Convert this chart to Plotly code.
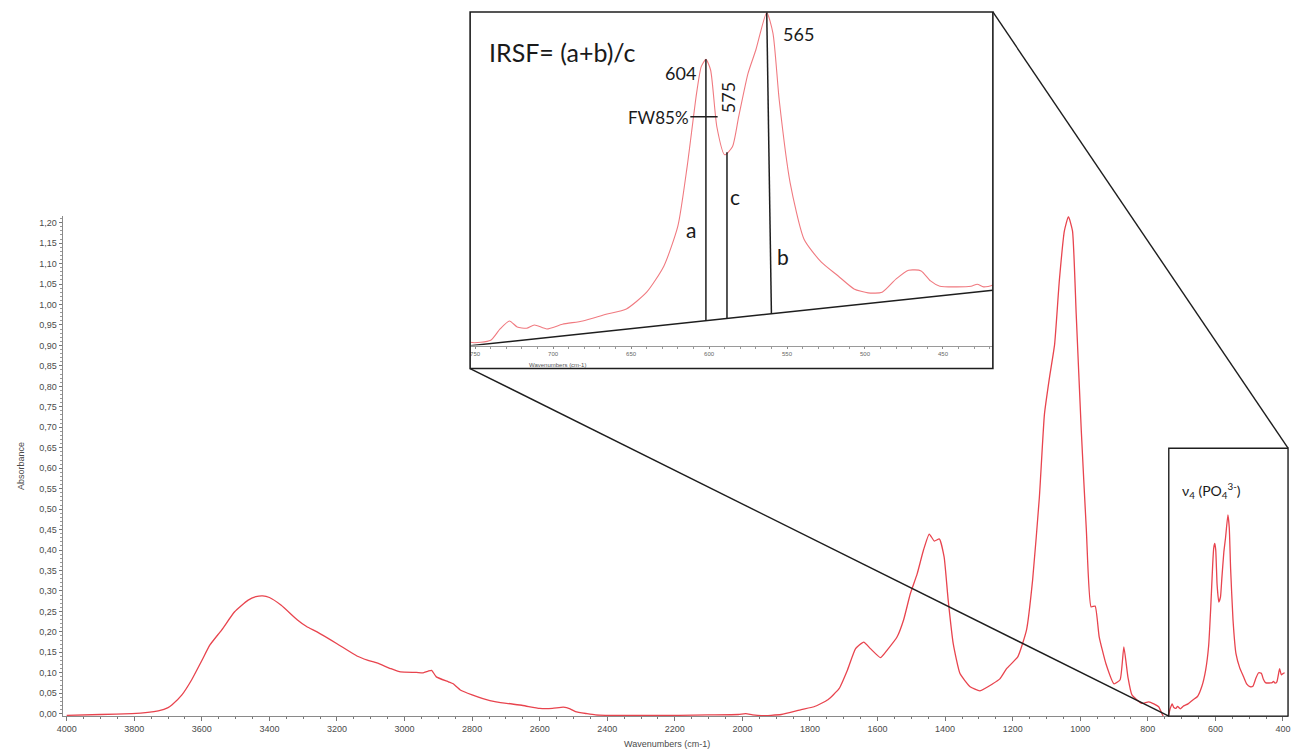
import numpy as np
import plotly.graph_objects as go

# FTIR absorbance spectrum (wavenumber in cm-1, descending)
wavenumber = [
    4000, 3900, 3807, 3760, 3729, 3700, 3688, 3659, 3630, 3600, 3576, 3541, 3503,
    3464, 3440, 3420, 3400, 3365, 3317, 3290, 3259, 3200, 3141, 3110, 3082, 3040,
    3012, 2965, 2945, 2930, 2920, 2906, 2870, 2856, 2845, 2835, 2800, 2768, 2729,
    2650, 2600, 2562, 2530, 2510, 2494, 2460, 2435, 2405, 2300, 2188, 2100, 2012,
    1990, 1970, 1944, 1885, 1826, 1788, 1747, 1714, 1689, 1665, 1641, 1621, 1591,
    1571, 1542, 1523, 1503, 1483, 1464, 1447, 1432, 1417, 1403, 1391, 1376, 1356,
    1326, 1297, 1259, 1238, 1218, 1185, 1159, 1141, 1121, 1106, 1091, 1076, 1062,
    1047, 1035, 1023, 1012, 997, 982, 968, 956, 944, 924, 900, 882, 871, 859, 847,
    818, 797, 768, 753, 740, 734, 728, 723, 717, 712, 704, 694, 681, 666, 653, 640,
    629, 620, 614, 608, 605, 602, 599, 595, 590, 585, 581, 575, 570, 563, 559, 555,
    548, 539, 528, 517, 507, 498, 489, 480, 472, 464, 458, 452, 441, 432, 428, 424,
    418, 410, 405, 400, 395,
]
absorbance = [
    -0.004, -0.002, 0.000, 0.003, 0.007, 0.015, 0.022, 0.046, 0.083, 0.130, 0.168,
    0.205, 0.249, 0.277, 0.286, 0.288, 0.284, 0.265, 0.229, 0.213, 0.200, 0.171,
    0.141, 0.131, 0.124, 0.110, 0.102, 0.101, 0.100, 0.104, 0.106, 0.090, 0.078,
    0.073, 0.065, 0.058, 0.046, 0.037, 0.029, 0.020, 0.013, 0.013, 0.016, 0.012,
    0.005, 0.000, -0.003, -0.004, -0.004, -0.004, -0.003, -0.002, 0.000, -0.003,
    -0.005, -0.002, 0.010, 0.017, 0.034, 0.061, 0.107, 0.159, 0.175, 0.159, 0.137,
    0.156, 0.188, 0.229, 0.293, 0.341, 0.400, 0.439, 0.422, 0.427, 0.383, 0.278,
    0.171, 0.098, 0.066, 0.056, 0.073, 0.085, 0.110, 0.139, 0.205, 0.327, 0.529,
    0.732, 0.822, 0.902, 1.058, 1.180, 1.215, 1.180, 0.976, 0.692, 0.449, 0.261,
    0.263, 0.188, 0.122, 0.073, 0.083, 0.163, 0.090, 0.046, 0.025, 0.029, 0.017,
    -0.008, -0.005, 0.012, 0.024, 0.015, 0.013, 0.018, 0.012, 0.019, 0.024, 0.034,
    0.042, 0.067, 0.106, 0.166, 0.256, 0.365, 0.405, 0.416, 0.400, 0.315, 0.273,
    0.285, 0.330, 0.395, 0.430, 0.486, 0.455, 0.355, 0.231, 0.146, 0.112, 0.091,
    0.072, 0.066, 0.067, 0.087, 0.100, 0.099, 0.084, 0.076, 0.075, 0.076, 0.079,
    0.075, 0.078, 0.110, 0.095, 0.098, 0.100,
]

main_xticks = list(range(4000, 399, -200))
main_yticks = [round(v * 0.05, 2) for v in range(0, 25)]
inset_xticks = [750, 700, 650, 600, 550, 500, 450]

# IRSF construction: linear baseline and the three measured positions
baseline_wn = [753, 418]
baseline_abs = [-0.013, 0.070]
a_wn = 602          # 604 band maximum
c_wn = 588.5        # valley between the bands
b_top_wn = 563      # 565 band maximum
b_foot_wn = 560
fw85_wn = [612, 594.5]
fw85_abs = 0.33

W, H = 1297, 756


def px(x):
    return x / W


def py(y):
    return 1 - y / H


wn_inc = np.array(wavenumber[::-1], dtype=float)
ab_inc = np.array(absorbance[::-1], dtype=float)


def spectrum_at(w):
    return float(np.interp(w, wn_inc, ab_inc))


def baseline_at(w):
    return float(np.interp(w, baseline_wn[::-1], baseline_abs[::-1]))


RED = "#e8444e"
INK = "#1e1e1e"

fig = go.Figure()

# main spectrum
fig.add_trace(go.Scatter(
    x=wavenumber, y=absorbance, mode="lines",
    line=dict(color=RED, width=1.3, shape="spline", smoothing=0.45),
    xaxis="x", yaxis="y", hoverinfo="skip",
))

# magnified v4 phosphate region
fig.add_trace(go.Scatter(
    x=wavenumber, y=absorbance, mode="lines",
    line=dict(color="#f07a80", width=1.1, shape="spline", smoothing=0.6),
    xaxis="x2", yaxis="y2", hoverinfo="skip",
))

inset_lines = [
    (baseline_wn, baseline_abs),
    ([a_wn, a_wn], [baseline_at(a_wn), spectrum_at(a_wn)]),
    ([c_wn, c_wn], [baseline_at(c_wn), spectrum_at(c_wn)]),
    ([b_foot_wn, b_top_wn], [baseline_at(b_foot_wn), spectrum_at(b_top_wn)]),
    (fw85_wn, [fw85_abs, fw85_abs]),
]
for xs, ys in inset_lines:
    fig.add_trace(go.Scatter(
        x=xs, y=ys, mode="lines", line=dict(color=INK, width=1.5),
        xaxis="x2", yaxis="y2", hoverinfo="skip",
    ))

tick_font = dict(family="Arial, Liberation Sans", size=9, color="#4a4a4a")

fig.update_layout(
    width=W, height=H,
    margin=dict(l=0, r=0, t=0, b=0),
    paper_bgcolor="white", plot_bgcolor="rgba(0,0,0,0)",
    showlegend=False,
    separators=", ",
    xaxis=dict(
        domain=[px(57), px(1290)], range=[4012, 385], anchor="y",
        tickvals=main_xticks, tickformat="d", ticks="outside", ticklen=4,
        tickcolor="#777", showline=True, linecolor="#8a8a8a", linewidth=1,
        showgrid=False, zeroline=False, tickfont=tick_font,
        minor=dict(dtick=50, tick0=0, ticks="outside", ticklen=2, tickcolor="#777"),
    ),
    yaxis=dict(
        domain=[py(719), py(217)], range=[-0.006, 1.216], anchor="x",
        tickvals=main_yticks, tickformat=".2f", ticks="outside", ticklen=3,
        tickcolor="#777", showline=True, linecolor="#8a8a8a", linewidth=1,
        showgrid=False, zeroline=False, tickfont=tick_font,
        minor=dict(dtick=0.01, tick0=0, ticks="outside", ticklen=2, tickcolor="#999"),
    ),
    xaxis2=dict(
        domain=[px(467), px(993)], range=[753.2, 418], anchor="y2",
        tickvals=inset_xticks, ticks="outside", ticklen=2, tickcolor="#888",
        showline=True, linecolor="#9a9a9a", linewidth=1, showgrid=False,
        zeroline=False, tickfont=dict(family="Arial, Liberation Sans", size=6, color="#666"),
        minor=dict(dtick=10, tick0=0, ticks="outside", ticklen=2, tickcolor="#999"),
    ),
    yaxis2=dict(
        domain=[py(347), py(12)], range=[-0.013, 0.487], anchor="x2",
        visible=False,
    ),
)

shape_line = dict(color=INK, width=1.4)
fig.update_layout(shapes=[
    # magnified panel frame
    dict(type="rect", xref="paper", yref="paper", x0=px(467), x1=px(993),
         y0=py(370), y1=py(12), line=dict(color=INK, width=1.6), layer="above"),
    # selected region on the main spectrum
    dict(type="rect", xref="paper", yref="paper", x0=px(1170), x1=px(1290),
         y0=py(719), y1=py(450), line=shape_line, layer="above"),
    # connectors between region and panel
    dict(type="line", xref="paper", yref="paper", x0=px(993), y0=py(12),
         x1=px(1290), y1=py(450), line=shape_line, layer="above"),
    dict(type="line", xref="paper", yref="paper", x0=px(467), y0=py(370),
         x1=px(1170), y1=py(719), line=shape_line, layer="above"),
])

label_font = "Lato, Open Sans, sans-serif"


def note(text, x, y, size, xanchor="center", angle=0, color="#1a1a1a", family=label_font):
    fig.add_annotation(
        text=text, x=px(x), y=py(y), xref="paper", yref="paper",
        xanchor=xanchor, yanchor="middle", showarrow=False, textangle=angle,
        font=dict(family=family, size=size, color=color),
    )


note("IRSF= (a+b)/c", 484, 52, 25, xanchor="left")
note("604", 679, 73, 18)
note("565", 797, 34, 18)
note("575", 726, 98, 18, angle=-90)
note("FW85%", 689, 118, 17, xanchor="right")
note("a", 689, 230, 21)
note("c", 734, 197, 21)
note("b", 782, 258, 21)
note("ν<sub>4</sub> (PO<sub>4</sub><sup>3-</sup>)", 1213, 492, 14)

note("Wavenumbers (cm-1)", 555, 366, 6, color="#555", family="Arial, Liberation Sans")
note("Wavenumbers (cm-1)", 665, 747, 9, color="#4a4a4a", family="Arial, Liberation Sans")
note("Absorbance", 15, 468, 9, angle=-90, color="#4a4a4a", family="Arial, Liberation Sans")

fig.write_html("out.html")
